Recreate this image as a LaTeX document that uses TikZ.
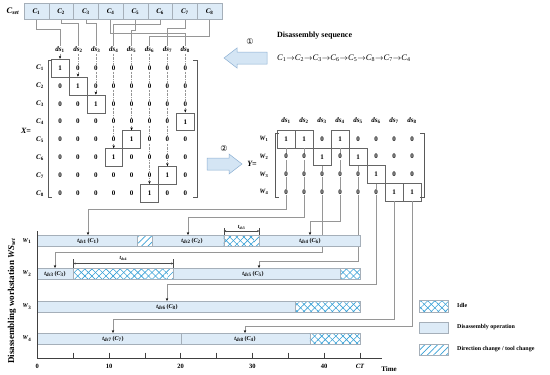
\documentclass[tikz,border=0pt]{standalone}
\usepackage{fontspec}
\setmainfont{Liberation Serif}
\newfontfamily\djv{DejaVu Sans}
\usetikzlibrary{arrows.meta,patterns.meta,calc}
\definecolor{barfill}{RGB}{221,235,247}
\definecolor{bardraw}{RGB}{165,175,185}
\definecolor{patblue}{RGB}{55,160,215}
\definecolor{conngray}{RGB}{150,150,150}
\definecolor{bigfill}{RGB}{212,229,244}
\definecolor{bigdraw}{RGB}{140,175,210}
\newcommand\ci[1]{\textit{C}\textsubscript{#1}}
\newcommand\dsl[1]{\textit{ds}\textsubscript{#1}}
\newcommand\tds[2]{\textit{t}\textsubscript{\textit{ds}#1}\,(\textit{C}\textsubscript{#2})}
\newcommand\fs[1]{\fontsize{#1}{#1}\selectfont}
\begin{document}
\begin{tikzpicture}[x=1pt,y=-1pt,
  cbox/.style={draw=bardraw,fill=barfill,minimum width=24.75pt,minimum height=16pt,inner sep=0pt,font=\fs{7}\bfseries},
  dslab/.style={inner sep=0.5pt,font=\fs{7}\bfseries},
  rowlab/.style={inner sep=0.5pt,font=\fs{7}\bfseries},
  entry/.style={fill=white,inner sep=0.6pt,font=\fs{7}\bfseries},
  xonebox/.style={draw=black!60,line width=0.5pt,minimum width=17.9pt,minimum height=17.9pt,inner sep=0pt},
  yonebox/.style={draw=black!60,line width=0.5pt,minimum width=18pt,minimum height=17.7pt,inner sep=0pt},
  conn/.style={draw=conngray,line width=0.5pt},
  arr/.style={-{Stealth[length=3pt,width=2.4pt,black]}},
  dashln/.style={draw=conngray,line width=0.5pt,dash pattern=on 2pt off 1pt on 0.5pt off 1pt},
  brk/.style={draw=black!65,line width=0.9pt},
  bar/.style={draw=bardraw,fill=barfill,line width=0.4pt},
  glab/.style={inner sep=0.5pt,font=\fs{6}\bfseries},
  wlab/.style={inner sep=0.5pt,font=\fs{6}\bfseries},
  legtext/.style={anchor=west,inner sep=0pt,font=\fs{6}\bfseries},
  bigarrow/.style={fill=bigfill,draw=bigdraw,line width=0.5pt},
  dim/.style={draw=black!70,line width=0.4pt,{Stealth[length=2.5pt,width=2pt]}-{Stealth[length=2.5pt,width=2pt]}}
]
\useasboundingbox (0,0) rectangle (550,375);

% ---------- C_set bar ----------
\node[font=\fs{8.5}\bfseries\itshape,inner sep=0pt] (cset) at (13,11) {C\textsubscript{set}};
\foreach \k in {1,...,8}{
  \node[cbox] (cs\k) at ({24+24.75*(\k-0.5)},11.5) {\ci{\k}};
}

% ---------- X matrix ----------
\foreach \j in {1,...,8}{
  \node[dslab] (xd\j) at ({60+17.9*(\j-1)},50) {\dsl{\j}};
}
\foreach \i in {1,...,8}{
  \node[rowlab] (xr\i) at (40,{68+17.9*(\i-1)}) {\ci{\i}};
}
\foreach \i/\p in {1/1,2/2,3/3,4/8,5/5,6/4,7/7,8/6}{
  \node[xonebox] (xb\i) at ({60+17.9*(\p-1)},{68+17.9*(\i-1)}) {};
  \draw[dashln,arr] (xd\p.south) -- (xb\i.north);
}
\foreach \i/\p in {1/1,2/2,3/3,4/8,5/5,6/4,7/7,8/6}{
  \foreach \j in {1,...,8}{
    \node[entry] (xe\i\j) at ({60+17.9*(\j-1)},{68+17.9*(\i-1)}) {\ifnum\j=\p\relax 1\else 0\fi};
  }
}
\draw[brk] (52,60) -- (48,60) -- (48,197) -- (52,197);
\draw[brk] (193,60) -- (197,60) -- (197,197) -- (193,197);
\node[font=\fs{8}\bfseries\itshape,inner sep=0pt] (xeq) at (26,131) {X=};

% C_set -> ds connectors
\draw[conn] (cs1.south) -- (cs1.south|-0,29) -- (xd1.north|-0,29) -- (xd1.north);
\draw[conn] (cs2.south) -- (cs2.south|-0,23) -- (xd2.north|-0,23) -- (xd2.north);
\draw[conn] (cs3.south) -- (cs3.south|-0,23) -- (xd3.north|-0,23) -- (xd3.north);
\draw[conn] (cs6.south) -- (cs6.south|-0,24) -- (xd4.north|-0,24) -- (xd4.north);
\draw[conn] (cs5.south) -- (cs5.south|-0,30) -- (xd5.north|-0,30) -- (xd5.north);
\draw[conn] (cs8.south) -- (cs8.south|-0,36) -- (xd6.north|-0,36) -- (xd6.north);
\draw[conn] (cs7.south) -- (cs7.south|-0,28) -- (xd7.north|-0,28) -- (xd7.north);
\draw[conn] (cs4.south) -- (cs4.south|-0,33) -- (xd8.north|-0,33) -- (xd8.north);

% ---------- arrow 1 and sequence ----------
\draw[bigarrow] (224,58) -- (237,48) -- (237,52) -- (267,52) -- (267,64) -- (237,64) -- (237,68) -- cycle;
\node[font=\fs{8}\djv,inner sep=0pt] (n1) at (250,42) {①};
\node[anchor=west,font=\fs{8}\bfseries,inner sep=0pt] (seqt) at (277,36) {Disassembly sequence};
\node[anchor=west,font=\fs{8.5},inner sep=0pt] (seq) at (277,58)
 {\ci{1}$\rightarrow$\ci{2}$\rightarrow$\ci{3}$\rightarrow$\ci{6}$\rightarrow$\ci{5}$\rightarrow$\ci{8}$\rightarrow$\ci{7}$\rightarrow$\ci{4}};

% ---------- arrow 2 ----------
\draw[bigarrow] (242,164) -- (229,154) -- (229,158) -- (207,158) -- (207,170) -- (229,170) -- (229,174) -- cycle;
\node[font=\fs{8}\djv,inner sep=0pt] (n2) at (224,149) {②};

% ---------- Y matrix ----------
\foreach \j in {1,...,8}{
  \node[dslab] (yd\j) at ({286+18*(\j-1)},121) {\dsl{\j}};
}
\foreach \w in {1,...,4}{
  \node[rowlab,font=\fs{6.5}\bfseries] (yr\w) at (264,{139+17.7*(\w-1)}) {\textit{W}\textsubscript{\w}};
}
\foreach \j/\w in {1/1,2/1,3/2,4/1,5/2,6/3,7/4,8/4}{
  \node[yonebox] (yb\j) at ({286+18*(\j-1)},{139+17.7*(\w-1)}) {};
}
% connectors from Y to Gantt
\coordinate (g1) at (88,235);
\coordinate (g2) at (188,235);
\coordinate (g3) at (55,268);
\coordinate (g4) at (310,235);
\coordinate (g5) at (259,268);
\coordinate (g6) at (167,301);
\coordinate (g7) at (113,333);
\coordinate (g8) at (245,333);
\draw[conn,arr] (yb1.south) -- (yb1.south|-0,209) -- (g1|-0,209) -- (g1);
\draw[conn,arr] (yb2.south) -- (yb2.south|-0,217) -- (g2|-0,217) -- (g2);
\draw[conn,arr] (yb3.south) -- (yb3.south|-0,252) -- (g3|-0,252) -- (g3);
\draw[conn,arr] (yb4.south) -- (yb4.south|-0,221) -- (g4|-0,221) -- (g4);
\draw[conn,arr] (yb5.south) -- (yb5.south|-0,261) -- (g5|-0,261) -- (g5);
\draw[conn,arr] (yb6.south) -- (yb6.south|-0,284) -- (g6|-0,284) -- (g6);
\draw[conn,arr] (yb7.south) -- (yb7.south|-0,319) -- (g7|-0,319) -- (g7);
\draw[conn,arr] (yb8.south) -- (yb8.south|-0,326) -- (g8|-0,326) -- (g8);
\foreach \w/\list in {1/{1,1,0,1,0,0,0,0},2/{0,0,1,0,1,0,0,0},3/{0,0,0,0,0,1,0,0},4/{0,0,0,0,0,0,1,1}}{
  \foreach \v [count=\j] in \list{
    \node[entry] (ye\w\j) at ({286+18*(\j-1)},{139+17.7*(\w-1)}) {\v};
  }
}
\draw[brk] (279,133) -- (275,133) -- (275,197) -- (279,197);
\draw[brk] (420,133) -- (424,133) -- (424,197) -- (420,197);
\node[font=\fs{8}\bfseries\itshape,inner sep=0pt] (yeq) at (252,164) {Y=};

% ---------- Gantt ----------
\def\tu#1{{37.3+7.17*(#1)}}
% W1
\draw[bar] (\tu{0},235) rectangle (\tu{45},246.5);
\fill[white] (\tu{14},235) rectangle (\tu{16},246.5);
\fill[pattern={Lines[angle=45,distance=4.5pt,line width=0.7pt]},pattern color=patblue] (\tu{14},235) rectangle (\tu{16},246.5);
\draw[bardraw,line width=0.4pt] (\tu{14},235) rectangle (\tu{16},246.5);
\fill[white] (\tu{26},235) rectangle (\tu{31},246.5);
\fill[pattern={Lines[angle=45,distance=5pt,line width=0.6pt]},pattern color=patblue] (\tu{26},235) rectangle (\tu{30.2},246.5);
\fill[pattern={Lines[angle=-45,distance=5pt,line width=0.6pt]},pattern color=patblue] (\tu{26},235) rectangle (\tu{30.2},246.5);
\fill[pattern={Lines[angle=45,distance=4.5pt,line width=0.7pt]},pattern color=patblue] (\tu{30.2},235) rectangle (\tu{31},246.5);
\draw[bardraw,line width=0.4pt] (\tu{26},235) rectangle (\tu{31},246.5);
% W2
\draw[bar] (\tu{0},268) rectangle (\tu{45},279);
\fill[white] (\tu{5},268) rectangle (\tu{19},279);
\fill[pattern={Lines[angle=45,distance=5pt,line width=0.6pt]},pattern color=patblue] (\tu{5},268) rectangle (\tu{18.2},279);
\fill[pattern={Lines[angle=-45,distance=5pt,line width=0.6pt]},pattern color=patblue] (\tu{5},268) rectangle (\tu{18.2},279);
\fill[pattern={Lines[angle=45,distance=4.5pt,line width=0.7pt]},pattern color=patblue] (\tu{18.2},268) rectangle (\tu{19},279);
\draw[bardraw,line width=0.4pt] (\tu{5},268) rectangle (\tu{19},279);
\fill[white] (\tu{42.3},268) rectangle (\tu{45},279);
\fill[pattern={Lines[angle=45,distance=5pt,line width=0.6pt]},pattern color=patblue] (\tu{42.3},268) rectangle (\tu{45},279);
\fill[pattern={Lines[angle=-45,distance=5pt,line width=0.6pt]},pattern color=patblue] (\tu{42.3},268) rectangle (\tu{45},279);
\draw[bardraw,line width=0.4pt] (\tu{42.3},268) rectangle (\tu{45},279);
% W3
\draw[bar] (\tu{0},301) rectangle (\tu{45},312);
\fill[white] (\tu{36},301) rectangle (\tu{45},312);
\fill[pattern={Lines[angle=45,distance=5pt,line width=0.6pt]},pattern color=patblue] (\tu{36},301) rectangle (\tu{45},312);
\fill[pattern={Lines[angle=-45,distance=5pt,line width=0.6pt]},pattern color=patblue] (\tu{36},301) rectangle (\tu{45},312);
\draw[bardraw,line width=0.4pt] (\tu{36},301) rectangle (\tu{45},312);
% W4
\draw[bar] (\tu{0},333) rectangle (\tu{45},344);
\draw[bardraw,line width=0.4pt] (\tu{20},333) -- (\tu{20},344);
\fill[white] (\tu{38},333) rectangle (\tu{45},344);
\fill[pattern={Lines[angle=45,distance=5pt,line width=0.6pt]},pattern color=patblue] (\tu{38},333) rectangle (\tu{45},344);
\fill[pattern={Lines[angle=-45,distance=5pt,line width=0.6pt]},pattern color=patblue] (\tu{38},333) rectangle (\tu{45},344);
\draw[bardraw,line width=0.4pt] (\tu{38},333) rectangle (\tu{45},344);

% bar labels
\node[glab] (l1) at (88,241) {\tds{1}{1}};
\node[glab] (l2) at (192,241) {\tds{2}{2}};
\node[glab] (l4) at (310,241) {\tds{4}{6}};
\node[glab] (l3) at (55,274) {\tds{3}{3}};
\node[glab] (l5) at (253,274) {\tds{5}{5}};
\node[glab] (l6) at (167,307) {\tds{6}{8}};
\node[glab] (l7) at (113,339) {\tds{7}{7}};
\node[glab] (l8) at (245,339) {\tds{8}{4}};

% dimension t_ds3 on W1
\coordinate (d3a) at (\tu{26},231);
\coordinate (d3b) at (\tu{31},231);
\draw[black!70,line width=0.4pt] (\tu{26},228) -- (\tu{26},235) (\tu{31},228) -- (\tu{31},235);
\draw[dim] (d3a) -- (d3b);
\node[glab,font=\fs{5.5}\bfseries] (dl3) at ($(d3a)!0.5!(d3b)+(0,-4)$) {\textit{t}\textsubscript{\textit{ds}3}};
% dimension t_ds4 on W2
\coordinate (d4a) at (\tu{5},263.5);
\coordinate (d4b) at (\tu{19},263.5);
\draw[black!70,line width=0.4pt] (\tu{5},259) -- (\tu{5},268) (\tu{19},259) -- (\tu{19},268);
\draw[dim] (d4a) -- (d4b);
\node[glab,font=\fs{5.5}\bfseries] (dl4) at ($(d4a)!0.5!(d4b)+(0,-5)$) {\textit{t}\textsubscript{\textit{ds}4}};

% W labels
\node[wlab] (w1) at (27,240.7) {\textit{W}\textsubscript{1}};
\node[wlab] (w2) at (27,273.5) {\textit{W}\textsubscript{2}};
\node[wlab] (w3) at (27,306.5) {\textit{W}\textsubscript{3}};
\node[wlab] (w4) at (27,338.5) {\textit{W}\textsubscript{4}};

% axes
\draw[black!75,line width=0.6pt] (37.3,231) -- (37.3,358) -- (382,358);
\foreach \u in {5,10,...,45}{
  \draw[black!75,line width=0.6pt] (\tu{\u},352.5) -- (\tu{\u},358);
}
\foreach \u/\t in {0/0,10/10,20/20,30/30,40/40}{
  \node[font=\fs{6.5}\bfseries,inner sep=0pt] (tk\u) at (\tu{\u},366) {\t};
}
\node[font=\fs{6.5}\bfseries\itshape,inner sep=0pt] (tkct) at (\tu{45},366) {CT};
\node[font=\fs{7}\bfseries,inner sep=0pt] (time) at (389,369) {Time};
\node[rotate=90,font=\fs{9}\bfseries,inner sep=0pt] (ylab) at (12,301) {Disassembling workstation \textit{WS}\textsubscript{\textit{set}}};

% legend
\fill[white] (419,300) rectangle (448,312);
\fill[pattern={Lines[angle=45,distance=5pt,line width=0.6pt]},pattern color=patblue] (419,300) rectangle (448,312);
\fill[pattern={Lines[angle=-45,distance=5pt,line width=0.6pt]},pattern color=patblue] (419,300) rectangle (448,312);
\draw[bardraw,line width=0.4pt] (419,300) rectangle (448,312);
\node[legtext] (lg1) at (457,305) {Idle};
\draw[bar] (419,322) rectangle (448,333);
\node[legtext] (lg2) at (457,327) {Disassembly operation};
\fill[white] (419,344) rectangle (448,355);
\fill[pattern={Lines[angle=45,distance=4.5pt,line width=0.7pt]},pattern color=patblue] (419,344) rectangle (448,355);
\draw[bardraw,line width=0.4pt] (419,344) rectangle (448,355);
\node[legtext] (lg3) at (457,349) {Direction change / tool change};
\end{tikzpicture}
\end{document}
